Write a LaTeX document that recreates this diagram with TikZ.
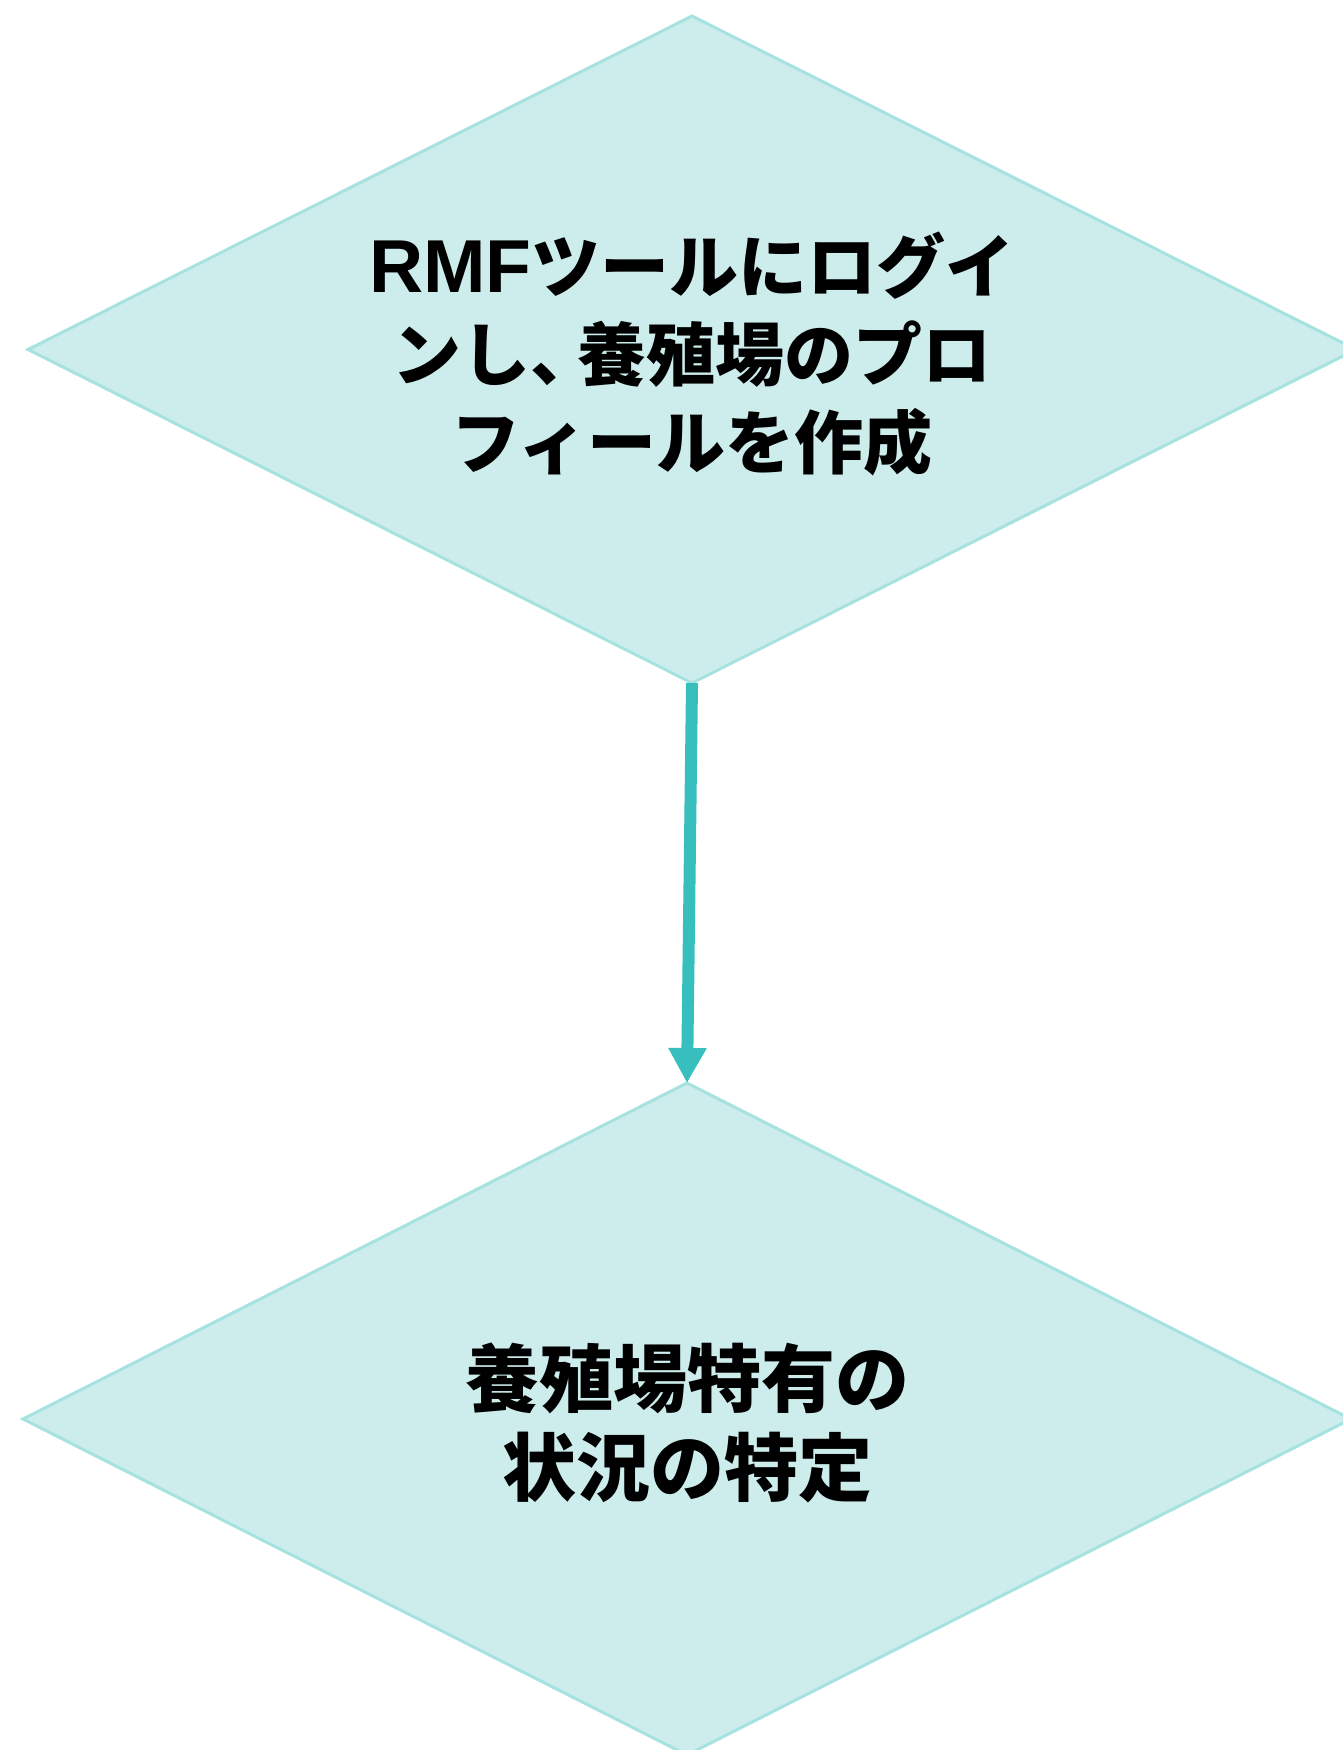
\documentclass[tikz,border=0pt]{standalone}
\usepackage{fontspec}
\usetikzlibrary{shapes.geometric,arrows.meta}
\setmainfont{Liberation Sans}
\newfontfamily\cjk{Noto Sans CJK JP}
\definecolor{diafill}{HTML}{CCEDEC}
\definecolor{diaedge}{HTML}{A6E2DF}
\definecolor{arrowc}{HTML}{36BFBC}
\begin{document}
\begin{tikzpicture}[x=1pt,y=-1pt,
  dia/.style={shape=diamond, draw=diaedge, fill=diafill, line width=3pt, inner sep=0pt, outer sep=0pt},
  txt/.style={align=center, text=black, font=\bfseries},
  conn/.style={draw=arrowc, line width=12pt, -{Triangle[width=36pt,length=35pt]}}]
\useasboundingbox (0,0) rectangle (1342,1750);
\node[dia, minimum width=1328pt, minimum height=667pt] (d1) at (692,349.5) {};
\node[dia, minimum width=1328pt, minimum height=672pt] (d2) at (687,1419) {};
\node[txt, font=\bfseries\fontsize{69}{88}\selectfont] (t1) at (692,354)
  {{\fontsize{75}{88}\selectfont RMF}{\cjk\bfseries ツールにログイ}\\{\cjk\bfseries ンし、\hspace{-22pt}養殖場のプロ}\\{\cjk\bfseries フィールを作成}};
\node[txt, font=\bfseries\fontsize{74}{89}\selectfont] (t2) at (687,1423)
  {{\cjk\bfseries 養殖場特有の}\\{\cjk\bfseries 状況の特定}};
\draw[conn] (d1.south) -- (d2.north);
\end{tikzpicture}
\end{document}
